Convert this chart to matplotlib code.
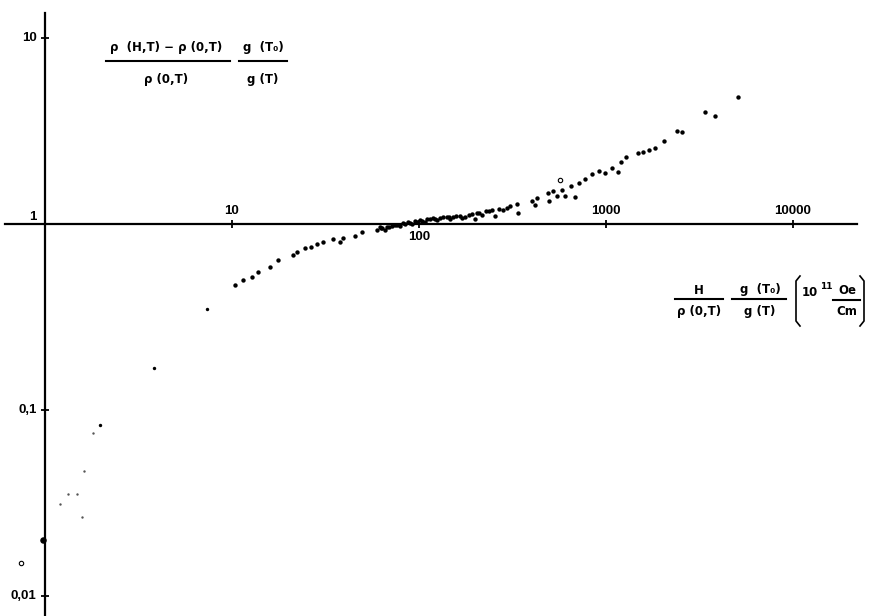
import matplotlib
matplotlib.use("Agg")
import matplotlib.pyplot as plt
from matplotlib.lines import Line2D

# ---- data ----
main_x = [10.4, 11.5, 12.8, 13.8, 16.0, 17.6, 21.2, 22.3, 24.6, 26.4, 28.5, 30.7,
          34.7, 37.8, 39.2, 45.5, 49.6, 59.6, 61.8, 63.4, 65.8, 67.4, 71.7, 76.3,
          79.1, 82.1, 87.3, 91.8, 95.2, 101, 108, 110, 119, 125, 129, 141, 147,
          152, 166, 170, 176, 192, 199, 204, 217, 228, 246, 255, 281, 296, 307,
          334, 338, 402, 417, 428, 490, 496, 521, 547, 582, 604, 650, 683, 717,
          772, 841, 918, 988, 1077, 1159, 1203, 1279, 1483, 1577, 1698, 1828,
          2042, 2398, 2547, 3383, 3828, 5080]
main_y = [0.470, 0.500, 0.519, 0.552, 0.587, 0.640, 0.681, 0.707, 0.743, 0.752,
          0.780, 0.800, 0.830, 0.800, 0.841, 0.862, 0.906, 0.928, 0.964, 0.952,
          0.928, 0.964, 0.976, 0.988, 0.976, 1.012, 1.025, 1.000, 1.038, 1.051,
          1.025, 1.064, 1.077, 1.051, 1.077, 1.091, 1.064, 1.091, 1.104, 1.077,
          1.091, 1.132, 1.064, 1.146, 1.118, 1.175, 1.189, 1.104, 1.189, 1.219,
          1.250, 1.281, 1.146, 1.330, 1.265, 1.380, 1.468, 1.330, 1.504, 1.415,
          1.523, 1.415, 1.600, 1.397, 1.661, 1.746, 1.857, 1.928, 1.880, 2.000,
          1.904, 2.155, 2.293, 2.409, 2.439, 2.500, 2.563, 2.793, 3.162, 3.124,
          4.000, 3.808, 4.818]

# extra points in the dense middle band
dense_x = [62.5, 69.5, 74.0, 84.5, 89.5, 98.0, 104, 114, 122, 135, 144, 158, 184, 210, 238, 268]
dense_y = [0.946, 0.958, 0.982, 1.005, 1.018, 1.030, 1.044, 1.058, 1.070, 1.084, 1.097, 1.100, 1.120, 1.140, 1.170, 1.200]

low_x = [7.35, 3.83, 1.97]
low_y = [0.349, 0.168, 0.083]

faint_x = [1.81, 1.62, 1.33, 1.48, 1.20, 1.58]
faint_y = [0.075, 0.047, 0.0353, 0.0353, 0.0312, 0.0266]

bold_x = [0.975]
bold_y = [0.020]

open_x = [0.744, 568]
open_y = [0.0150, 1.724]

x_ticks = [10, 100, 1000, 10000]
x_tick_labels = ["10", "100", "1000", "10000"]
y_ticks = [10, 0.1, 0.01]
y_tick_labels = ["10", "0,1", "0,01"]

# ---- figure ----
W, H = 870, 616
fig = plt.figure(figsize=(W / 100, H / 100), dpi=100)
ax = fig.add_axes([0, 0, 1, 1])
ax.set_xscale("log")
ax.set_yscale("log")
ax.set_xlim(10 ** (-45 / 187), 10 ** ((W - 45) / 187))
ax.set_ylim(10 ** (-(H - 224) / 186), 10 ** (224 / 186))
ax.patch.set_alpha(0)

for s in ("top", "right"):
    ax.spines[s].set_visible(False)
ax.spines["bottom"].set_position(("data", 1))
ax.spines["left"].set_position(("data", 1))
ax.spines["bottom"].set_bounds(0.611, 21980)
ax.spines["left"].set_bounds(ax.get_ylim()[0], 13.6)
ax.spines["bottom"].set_linewidth(1.6)
ax.spines["left"].set_linewidth(1.6)

ax.set_xticks(x_ticks)
ax.set_yticks(y_ticks)
ax.xaxis.set_minor_locator(matplotlib.ticker.NullLocator())
ax.yaxis.set_minor_locator(matplotlib.ticker.NullLocator())
ax.tick_params(axis="both", which="major", direction="inout", length=6, width=1.3,
               labelbottom=False, labelleft=False)

# data
ax.scatter(main_x, main_y, s=10, c="black", marker="o", linewidths=0)
ax.scatter(dense_x, dense_y, s=10, c="black", marker="o", linewidths=0)
ax.scatter(low_x, low_y, s=6, c="black", marker="o", linewidths=0)
ax.scatter(faint_x, faint_y, s=3, c="#555555", marker="o", linewidths=0)
ax.scatter(bold_x, bold_y, s=22, c="black", marker="o", linewidths=0)
ax.scatter(open_x, open_y, s=10, facecolors="white", edgecolors="black",
           linewidths=0.8, marker="o")

# tick labels
tf = dict(family="Liberation Sans", weight="bold", fontsize=9.5, color="black")
label_off = [-1, 1, -1, -1]  # above (-1) or below (+1) the axis
for v, lab, side in zip(x_ticks, x_tick_labels, label_off):
    ax.annotate(lab, (v, 1), xytext=(0, -side * 9), textcoords="offset points",
                ha="center", va="center", **tf)
for v, lab in zip(y_ticks, y_tick_labels):
    ax.annotate(lab, (1, v), xytext=(-6, 0), textcoords="offset points",
                ha="right", va="center", **tf)
ax.annotate("1", (1, 1), xytext=(-6, 5), textcoords="offset points",
            ha="right", va="center", **tf)


def P(x, y):
    return (x / W, 1 - y / H)


lf = dict(family="DejaVu Sans", weight="bold", fontsize=8.5, color="black",
          ha="center", va="center")


def frac(num, den, xc, x0, x1, ynum, yline, yden):
    fig.text(*P(xc, ynum), num, **lf)
    fig.text(*P(xc, yden), den, **lf)
    fig.add_artist(Line2D([x0 / W, x1 / W], [1 - yline / H, 1 - yline / H],
                          color="black", lw=1.5, transform=fig.transFigure))


# y-axis label
frac("ρ  (H,T) − ρ (0,T)", "ρ (0,T)", 166, 106, 230, 48, 61, 80)
frac("g  (T₀)", "g (T)", 263, 239, 287, 48, 61, 80)

# x-axis label
frac("H", "ρ (0,T)", 699, 675, 723, 290, 299, 312)
frac("g  (T₀)", "g (T)", 760, 732, 786, 290, 299, 312)
fig.text(*P(810, 293), "10", **lf)
fig.text(*P(826, 287), "11", fontsize=6.5, weight="bold", family="DejaVu Sans",
         ha="center", va="center")
frac("Oe", "Cm", 847, 833, 860, 291, 300, 312)
fig.add_artist(Line2D([800 / W, 796 / W, 796 / W, 800 / W],
                      [1 - 276 / H, 1 - 281 / H, 1 - 321 / H, 1 - 326 / H],
                      color="black", lw=1.2, transform=fig.transFigure))
fig.add_artist(Line2D([860 / W, 864 / W, 864 / W, 860 / W],
                      [1 - 276 / H, 1 - 281 / H, 1 - 321 / H, 1 - 326 / H],
                      color="black", lw=1.2, transform=fig.transFigure))

fig.savefig("out.png", dpi=100, facecolor="white")
